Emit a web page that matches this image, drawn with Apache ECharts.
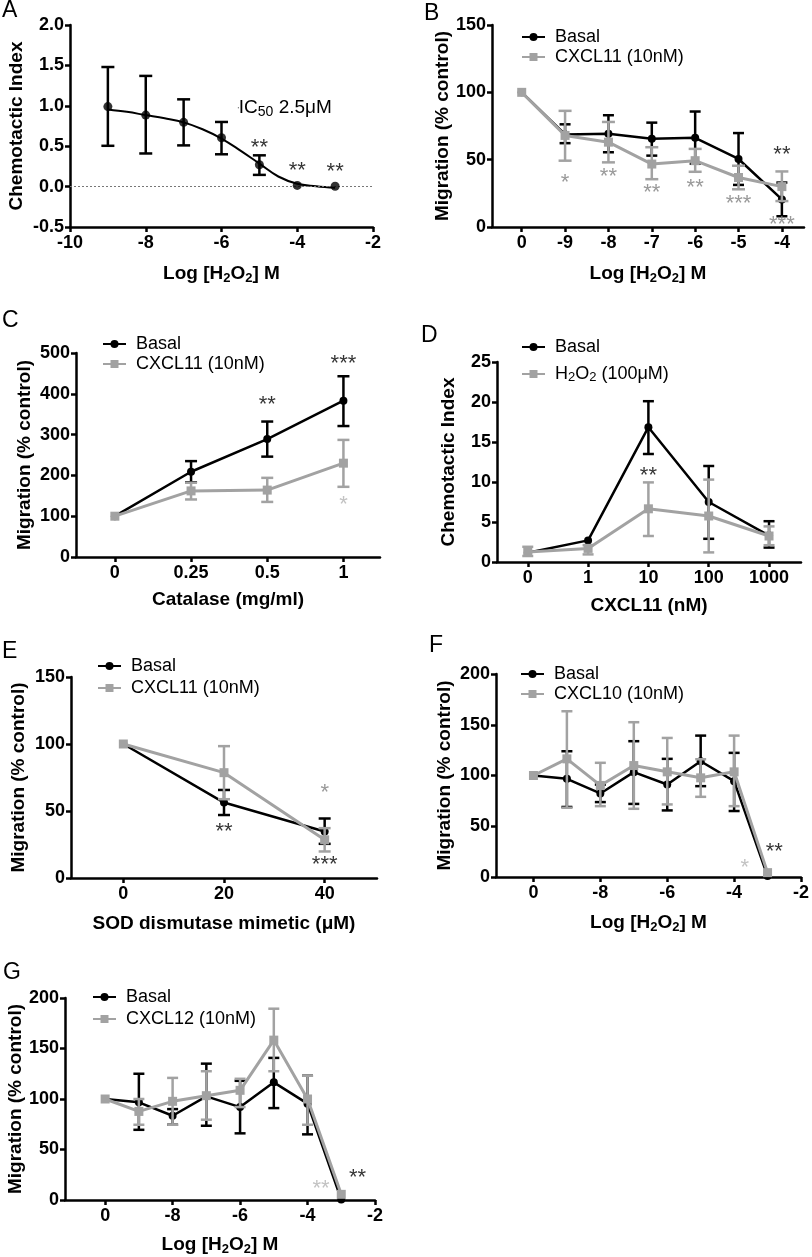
<!DOCTYPE html>
<html><head><meta charset="utf-8">
<script src="https://cdn.jsdelivr.net/npm/echarts@6/dist/echarts.min.js"></script>
<style>html,body{margin:0;padding:0;background:#fff}#c{width:812px;height:1257px}</style>
</head><body><div id="c"></div>
<script>
// ================= DATA =================
// Panel A
const aX = [-9, -8, -7, -6, -5, -4, -3];
const aMean = [0.99, 0.885, 0.795, 0.605, 0.27, 0.015, 0.005];
const aErrLow = [0.505, 0.41, 0.51, 0.40, 0.145, null, null];
const aErrHigh = [1.48, 1.37, 1.08, 0.80, 0.387, null, null];
const aFitX = [-9, -8.5, -8, -7.5, -7, -6.5, -6, -5.5, -5, -4.5, -4, -3.5, -3];
const aFitY = [0.955, 0.925, 0.885, 0.845, 0.795, 0.71, 0.595, 0.445, 0.285, 0.125, 0.035, 0.005, -0.015];
const aStars = [[-5, 0.523, '**'], [-4, 0.247, '**'], [-3, 0.235, '**']];
const aNote = [[-5.556, 0.976]];

// Panel B
const bCats = ['0', '-9', '-8', '-7', '-6', '-5', '-4'];
const bBasal = [100, 68.75, 69.25, 65.5, 66.25, 50.5, 20.5];
const bBasalLow = [null, 62.25, 55.5, 53, 47, 31.25, 8];
const bBasalHigh = [null, 76.25, 83, 77.5, 85.75, 69.75, 33];
const bCx = [100, 68, 63, 46.75, 49.25, 36.75, 30];
const bCxLow = [null, 49.25, 48, 35.5, 41, 28, 19.25];
const bCxHigh = [null, 86.25, 78, 59.25, 58, 45.5, 41.25];
const bStarsGray = [[1, 35.5, '*'], [2, 40.5, '**'], [3, 28, '**'], [4, 31.75, '**'], [5, 19.75, '***'], [6, 4.75, '***']];
const bStarsBlack = [[6, 56.75, '**']];

// Panel C
const cCats = ['0', '0.25', '0.5', '1'];
const cBasal = [100, 209, 289, 383];
const cBasalLow = [null, 183, 246, 321];
const cBasalHigh = [null, 235, 332, 443];
const cCx = [100, 162, 164, 230];
const cCxLow = [null, 141, 135, 172];
const cCxHigh = [null, 182, 194, 287];
const cStarsBlack = [[2, 382, '**'], [3, 482, '***']];
const cStarsGray = [[3, 137, '*']];

// Panel D
const dCats = ['0', '1', '10', '100', '1000'];
const dBasal = [1.15, 2.7, 16.85, 7.5, 3.3];
const dBasalLow = [null, null, 13.5, 2.9, 1.8];
const dBasalHigh = [null, null, 20.1, 12.0, 5.1];
const dH2O2 = [1.25, 1.7, 6.65, 5.75, 3.25];
const dH2O2Low = [0.75, 0.95, 3.25, 1.2, 2.1];
const dH2O2High = [1.9, 2.1, 9.95, 10.3, 4.45];
const dStarsBlack = [[2, 11.2, '**']];

// Panel E
const eCats = ['0', '20', '40'];
const eBasal = [100, 56.3, 34.7];
const eBasalLow = [null, 47, 25.5];
const eBasalHigh = [null, 65.7, 44.4];
const eCx = [100, 78.6, 28.5];
const eCxLow = [null, 58.8, 19.8];
const eCxHigh = [null, 98.4, 37.2];
const eStarsBlack = [[1, 37.4, '**'], [2, 12.4, '***']];
const eStarsGray = [[2, 66.5, '*']];

// Panel F  (x = log[H2O2]; control plotted at -10 and labelled "0")
const fX = [-10, -9, -8, -7, -6, -5, -4, -3];
const fBasal = [100, 96.7, 82.3, 103.3, 91.1, 114, 94.4, 1];
const fBasalLow = [null, 69, 73.8, 72, 65.6, 89.5, 65, null];
const fBasalHigh = [null, 123.9, 91, 133.8, 116.4, 139.3, 122.3, null];
const fCx = [100, 116.4, 90.2, 109.8, 103.6, 97.7, 103.6, 4.3];
const fCxLow = [null, 68.2, 69.8, 67.2, 71.5, 79, 69.8, null];
const fCxHigh = [null, 163.3, 112.5, 152.5, 137, 116, 139.3, null];
const fStarsGray = [[-3.68, 12.5, '*']];
const fStarsBlack = [[-2.8, 28.9, '**']];

// Panel G
const gX = [-10, -9, -8, -7, -6, -5, -4, -3];
const gBasal = [100, 96.7, 83.4, 102.6, 92, 116.5, 95.4, 0.5];
const gBasalLow = [null, 69.5, 74.5, 73.5, 66, 91, 65, null];
const gBasalHigh = [null, 125, 90, 135, 118, 140.7, 123, null];
const gCx = [100, 87.7, 97.7, 103.3, 108.6, 158.3, 100, 5.6];
const gCxLow = [null, 74.5, 74.5, 79.5, 92, 127.5, 74.5, null];
const gCxHigh = [null, 100, 120.9, 127.5, 120, 189.4, 123, null];
const gStarsGray = [[-3.6, 14.9, '**']];
const gStarsBlack = [[-2.52, 25.8, '**']];

const logTicks = [-10, -8, -6, -4, -2];

// ================= STYLE / LAYOUT =================
const FONT = "'Liberation Sans', Arial, Helvetica, sans-serif";
const BLACK = '#000000', GRAY = '#a2a2a2', STAR_DARK = '#808080', STAR_LIGHT = '#b3b3b3';
const TICK_FS = 18, TITLE_FS = 19, LEG_FS = 18;
const SUB_RICH = {
  n: {fontSize: TITLE_FS, fontWeight: 'bold', fontFamily: FONT, color: '#000', lineHeight: 22},
  s: {fontSize: 13, fontWeight: 'bold', fontFamily: FONT, color: '#000', lineHeight: 10, verticalAlign: 'bottom'}
};
const LOG_NAME = '{n|Log [H}{s|2}{n|O}{s|2}{n|] M}';

const grids = [
  {left: 70, top: 25, width: 303, height: 202},   // A
  {left: 492, top: 25, width: 312, height: 202},  // B
  {left: 76, top: 353, width: 304, height: 204},  // C
  {left: 497, top: 362, width: 304, height: 200}, // D
  {left: 71, top: 677, width: 306, height: 201},  // E
  {left: 496, top: 674, width: 308, height: 203}, // F
  {left: 65, top: 998, width: 310, height: 202}   // G
];

function pts(xs, ys) { return xs.map((x, i) => [x, ys[i]]); }
function idx(arr) { return arr.map((_, i) => i); }
function errPts(xs, lo, hi) {
  const out = [];
  xs.forEach((x, i) => { if (lo[i] != null && hi[i] != null) out.push([x, lo[i], hi[i]]); });
  return out;
}

function xAx(g, o) {
  return Object.assign({
    type: 'value', gridIndex: g, nameLocation: 'middle', nameGap: 37,
    axisLine: {show: true, onZero: false, lineStyle: {color: '#000', width: 2.5}},
    axisTick: {show: true, length: 5, lineStyle: {color: '#000', width: 2.5}},
    axisLabel: {color: '#000', fontSize: TICK_FS, fontWeight: 'bold', fontFamily: FONT, margin: 7},
    splitLine: {show: false},
    nameTextStyle: {color: '#000', fontSize: TITLE_FS, fontWeight: 'bold', fontFamily: FONT, rich: SUB_RICH}
  }, o);
}
function customX(g, min, max, vals, fmt, o) {
  const a = xAx(g, Object.assign({min, max}, o));
  a.axisTick = Object.assign({}, a.axisTick, {customValues: vals});
  a.axisLabel = Object.assign({}, a.axisLabel, {customValues: vals, formatter: fmt});
  return a;
}
function yAx(g, min, max, interval, name, gap, fmt) {
  return {
    type: 'value', gridIndex: g, min, max, interval, name, nameLocation: 'middle', nameGap: gap,
    axisLine: {show: true, onZero: false, lineStyle: {color: '#000', width: 2.5}},
    axisTick: {show: true, length: 5, lineStyle: {color: '#000', width: 2.5}},
    axisLabel: {color: '#000', fontSize: TICK_FS, fontWeight: 'bold', fontFamily: FONT, margin: 6, formatter: fmt},
    splitLine: {show: false},
    nameTextStyle: {color: '#000', fontSize: TITLE_FS, fontWeight: 'bold', fontFamily: FONT}
  };
}

function lineS(g, name, data, color, width, symbol, size, z) {
  return {type: 'line', name, xAxisIndex: g, yAxisIndex: g, data, symbol, symbolSize: size, showSymbol: true,
    lineStyle: {color, width}, itemStyle: {color}, z, silent: true, emphasis: {disabled: true}};
}
function basalS(g, data) { return lineS(g, 'Basal', data, BLACK, 2.5, 'circle', 8, 4); }
function grayS(g, name, data) { return lineS(g, name, data, GRAY, 3, 'rect', 9, 6); }
function errS(g, data, color, width, cap, z) {
  return {type: 'custom', xAxisIndex: g, yAxisIndex: g, data, z, silent: true, encode: {x: 0, y: [1, 2]},
    renderItem: (params, api) => {
      const x = api.value(0), lo = api.value(1), hi = api.value(2);
      const a = api.coord([x, lo]), b = api.coord([x, hi]);
      const h = cap / 2, st = {stroke: color, lineWidth: width};
      return {type: 'group', children: [
        {type: 'line', shape: {x1: a[0], y1: a[1], x2: b[0], y2: b[1]}, style: st},
        {type: 'line', shape: {x1: a[0] - h, y1: a[1], x2: a[0] + h, y2: a[1]}, style: st},
        {type: 'line', shape: {x1: b[0] - h, y1: b[1], x2: b[0] + h, y2: b[1]}, style: st}
      ]};
    }};
}
function starS(g, data, color) {
  return {type: 'scatter', xAxisIndex: g, yAxisIndex: g, data, symbolSize: 1, silent: true, z: 10,
    itemStyle: {color: 'rgba(0,0,0,0)'},
    label: {show: true, position: 'inside', formatter: p => p.data[2], color, fontSize: 22, fontFamily: FONT,
      offset: [0, 4], textBorderWidth: 0}};
}
function legendAt(left, top, gap, names) {
  return {left, top, orient: 'vertical', itemWidth: 23, itemHeight: 10, itemGap: gap, data: names,
    selectedMode: false,
    formatter: n => n === 'H2O2 (100μM)' ? '{n|H}{s|2}{n|O}{s|2}{n| (100μM)}' : '{n|' + n + '}',
    textStyle: {fontSize: LEG_FS, fontFamily: FONT, color: '#000', padding: [0, 0, 0, 5],
      rich: {
        n: {fontSize: LEG_FS, fontFamily: FONT, color: '#000', lineHeight: 20},
        s: {fontSize: 13, fontFamily: FONT, color: '#000', lineHeight: 9, verticalAlign: 'bottom'}
      }}};
}

const letters = [
  {t: 'A', x: 2, y: 10.5}, {t: 'B', x: 424, y: 13.5}, {t: 'C', x: 2, y: 321},
  {t: 'D', x: 421, y: 336}, {t: 'E', x: 2, y: 651.5}, {t: 'F', x: 429, y: 645.5}, {t: 'G', x: 3, y: 972.5}
];

const option = {
  backgroundColor: '#ffffff',
  animation: false,
  grid: grids,
  xAxis: [
    xAx(0, {min: -10, max: -2, interval: 2, name: LOG_NAME, nameGap: 36}),
    customX(1, -0.685, 6.51, idx(bCats), v => bCats[Math.round(v)], {name: LOG_NAME, nameGap: 36}),
    customX(2, -0.51, 3.48, idx(cCats), v => cCats[Math.round(v)], {name: 'Catalase (mg/ml)', nameGap: 33}),
    customX(3, -0.51, 4.53, idx(dCats), v => dCats[Math.round(v)], {name: 'CXCL11 (nM)', nameGap: 34}),
    customX(4, -0.52, 2.52, idx(eCats), v => eCats[Math.round(v)], {name: 'SOD dismutase mimetic (μM)', nameGap: 36}),
    customX(5, -11.12, -2, logTicks, v => v === -10 ? '0' : String(v), {name: LOG_NAME, nameGap: 35}),
    customX(6, -11.19, -2, logTicks, v => v === -10 ? '0' : String(v), {name: LOG_NAME, nameGap: 34})
  ],
  yAxis: [
    yAx(0, -0.5, 2, 0.5, 'Chemotactic Index', 44, v => v.toFixed(1)),
    yAx(1, 0, 150, 50, 'Migration (% control)', 40),
    yAx(2, 0, 500, 100, 'Migration (% control)', 42),
    yAx(3, 0, 25, 5, 'Chemotactic Index', 39),
    yAx(4, 0, 150, 50, 'Migration (% control)', 43),
    yAx(5, 0, 200, 50, 'Migration (% control)', 42),
    yAx(6, 0, 200, 50, 'Migration (% control)', 40)
  ],
  legend: [
    legendAt(516, 23, 2, ['Basal', 'CXCL11 (10nM)']),
    legendAt(97, 330, 2, ['Basal', 'CXCL11 (10nM)']),
    legendAt(516, 333, 9, ['Basal', 'H2O2 (100μM)']),
    legendAt(92, 652, 4, ['Basal', 'CXCL11 (10nM)']),
    legendAt(515, 660, 2, ['Basal', 'CXCL10 (10nM)']),
    legendAt(87, 983, 4, ['Basal', 'CXCL12 (10nM)'])
  ],
  graphic: letters.map(l => ({type: 'text', x: l.x, y: l.y, silent: true,
    style: {text: l.t, fontSize: 23, fontFamily: FONT, fill: '#000', align: 'left', verticalAlign: 'middle'}})),
  series: [
    // ---- A ----
    {type: 'line', xAxisIndex: 0, yAxisIndex: 0, data: pts(aFitX, aFitY), smooth: 0.4, showSymbol: false,
      lineStyle: {color: BLACK, width: 2}, z: 3, silent: true,
      markLine: {silent: true, symbol: 'none', label: {show: false}, lineStyle: {type: [2, 2], color: '#777', width: 1},
        data: [{yAxis: 0}]}},
    errS(0, errPts(aX, aErrLow, aErrHigh), BLACK, 2.5, 13, 4),
    {type: 'scatter', xAxisIndex: 0, yAxisIndex: 0, data: pts(aX, aMean), symbol: 'circle', symbolSize: 9,
      itemStyle: {color: BLACK}, z: 5, silent: true},
    starS(0, aStars, BLACK),
    {type: 'scatter', xAxisIndex: 0, yAxisIndex: 0, data: aNote, symbolSize: 1, silent: true, z: 10,
      itemStyle: {color: '#000', opacity: 1},
      label: {show: true, position: 'right', distance: 0, color: '#000', textBorderWidth: 0,
        formatter: '{n|IC}{s|50}{n| 2.5μM}',
        rich: {n: {fontSize: 19, fontFamily: FONT, color: '#000', lineHeight: 22},
               s: {fontSize: 14, fontFamily: FONT, color: '#000', lineHeight: 10, verticalAlign: 'bottom'}}}},
    // ---- B ----
    errS(1, errPts(idx(bCats), bBasalLow, bBasalHigh), BLACK, 2.5, 11, 3),
    basalS(1, pts(idx(bCats), bBasal)),
    errS(1, errPts(idx(bCats), bCxLow, bCxHigh), GRAY, 2.5, 13, 5),
    grayS(1, 'CXCL11 (10nM)', pts(idx(bCats), bCx)),
    starS(1, bStarsGray, STAR_DARK),
    starS(1, bStarsBlack, BLACK),
    // ---- C ----
    errS(2, errPts(idx(cCats), cBasalLow, cBasalHigh), BLACK, 2.5, 12, 3),
    basalS(2, pts(idx(cCats), cBasal)),
    errS(2, errPts(idx(cCats), cCxLow, cCxHigh), GRAY, 2.5, 12, 5),
    grayS(2, 'CXCL11 (10nM)', pts(idx(cCats), cCx)),
    starS(2, cStarsBlack, BLACK),
    starS(2, cStarsGray, STAR_LIGHT),
    // ---- D ----
    errS(3, errPts(idx(dCats), dBasalLow, dBasalHigh), BLACK, 2.5, 11, 3),
    basalS(3, pts(idx(dCats), dBasal)),
    errS(3, errPts(idx(dCats), dH2O2Low, dH2O2High), GRAY, 2.5, 11, 5),
    grayS(3, 'H2O2 (100μM)', pts(idx(dCats), dH2O2)),
    starS(3, dStarsBlack, BLACK),
    // ---- E ----
    errS(4, errPts(idx(eCats), eBasalLow, eBasalHigh), BLACK, 2.5, 12, 3),
    basalS(4, pts(idx(eCats), eBasal)),
    errS(4, errPts(idx(eCats), eCxLow, eCxHigh), GRAY, 2.5, 12, 5),
    grayS(4, 'CXCL11 (10nM)', pts(idx(eCats), eCx)),
    starS(4, eStarsBlack, BLACK),
    starS(4, eStarsGray, STAR_DARK),
    // ---- F ----
    errS(5, errPts(fX, fBasalLow, fBasalHigh), BLACK, 2.5, 11, 3),
    basalS(5, pts(fX, fBasal)),
    errS(5, errPts(fX, fCxLow, fCxHigh), GRAY, 2.5, 11, 5),
    grayS(5, 'CXCL10 (10nM)', pts(fX, fCx)),
    starS(5, fStarsGray, STAR_LIGHT),
    starS(5, fStarsBlack, BLACK),
    // ---- G ----
    errS(6, errPts(gX, gBasalLow, gBasalHigh), BLACK, 2.5, 11, 3),
    basalS(6, pts(gX, gBasal)),
    errS(6, errPts(gX, gCxLow, gCxHigh), GRAY, 2.5, 11, 5),
    grayS(6, 'CXCL12 (10nM)', pts(gX, gCx)),
    starS(6, gStarsGray, STAR_LIGHT),
    starS(6, gStarsBlack, BLACK)
  ]
};

const chart = echarts.init(document.getElementById('c'), null, {renderer: 'canvas', width: 812, height: 1257});
chart.setOption(option);
</script>
</body></html>
